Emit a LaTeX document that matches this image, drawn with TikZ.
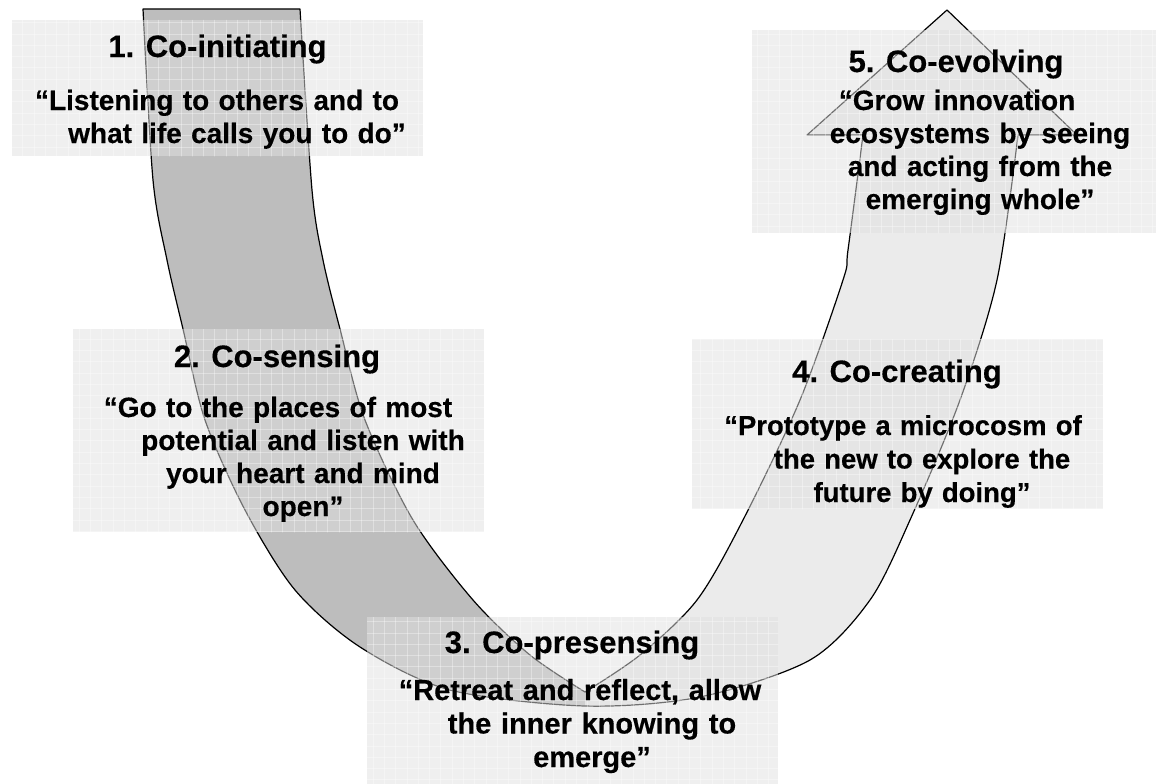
\documentclass[tikz,border=0pt]{standalone}
\usepackage{fontspec}
\setmainfont{Liberation Sans}[BoldFeatures={FakeBold=0.4}]
\definecolor{armdark}{HTML}{BDBDBD}
\definecolor{armlight}{HTML}{EBEBEB}
\definecolor{boxfill}{HTML}{E1E1E1}
\begin{document}
\begin{tikzpicture}[x=1pt,y=-1pt,
  boxbg/.style={fill=boxfill, fill opacity=0.5, draw=none, inner sep=0, anchor=north west, minimum width=411pt},
  ttl/.style={inner sep=0, anchor=base, font=\bfseries\fontsize{31}{37}\selectfont},
  qt/.style={inner sep=0, anchor=base, text width=411pt, align=center, font=\bfseries\fontsize{28}{33}\selectfont},
  armline/.style={draw=black, line width=1.2pt, line join=round},
  gridline/.style={draw=white, draw opacity=0.35, line width=0.6pt}
]
\useasboundingbox (0,0) rectangle (1156,784);
\fill[white] (0,0) rectangle (1156,784);

\def\Upath{(300,9) -- (143,9)
  -- plot[smooth] coordinates {(143,9) (153,180) (167,260) (183,329) (205,420) (245,510) (295,590) (360,647) (450,690) (585,706) (700,697) (810,660) (870,600) (910,520) (960,400) (997,280) (1018,135)}
  -- (1077,135) -- (947,10) -- (807,135) -- (863,135)
  -- plot[smooth] coordinates {(863,135) (848,250) (843,280) (800,400) (743,520) (697,600) (640,655) (585,692)}
  -- plot[smooth] coordinates {(585,692) (530,655) (473,600) (413,520) (365,420) (340,329) (323,260) (312,190) (300,9)}
  -- cycle}

\begin{scope}
  \clip (0,0) rectangle (585,784);
  \fill[armdark] \Upath;
\end{scope}
\begin{scope}
  \clip (585,0) rectangle (1156,784);
  \fill[armlight] \Upath;
\end{scope}
\draw[armline] \Upath;

% boxes
\node[boxbg, minimum height=136pt] (b1) at (12,20) {};
\node[boxbg, minimum height=203pt] (b2) at (73,329) {};
\node[boxbg, minimum height=175pt] (b3) at (367,617) {};
\node[boxbg, minimum height=170pt] (b4) at (692,339) {};
\node[boxbg, minimum height=203pt] (b5) at (752,30) {};

\begin{scope}
  \clip (b1.north west) rectangle (b1.south east)
        (b2.north west) rectangle (b2.south east)
        (b3.north west) rectangle (b3.south east)
        (b4.north west) rectangle (b4.south east)
        (b5.north west) rectangle (b5.south east);
  \foreach \gx in {0,11.3,...,1160} \draw[gridline] (\gx,0) -- (\gx,790);
  \foreach \gy in {0,11.3,...,790} \draw[gridline] (0,\gy) -- (1160,\gy);
\end{scope}

% texts
\node[ttl] (t1) at (217.5,57) {1. Co-initiating};
\node[qt] (q1) at (217,110) {“Listening to others and to\\\hspace*{40pt}what life calls you to do”};

\node[ttl] (t2) at (277,367) {2. Co-sensing};
\node[qt] (q2) at (278,417) {“Go to the places of most\\\hspace*{50pt}potential and listen with\\\hspace*{50pt}your heart and mind\\\hspace*{50pt}open”};

\node[ttl] (t3) at (572,653) {3. Co-presensing};
\node[qt, font=\bfseries\fontsize{29}{33.5}\selectfont] (q3) at (580,700) {“Retreat and reflect, allow\\\hspace*{24pt}the inner knowing to\\\hspace*{24pt}emerge”};

\node[ttl] (t4) at (897,382) {4. Co-creating};
\node[qt, font=\bfseries\fontsize{27.5}{33.5}\selectfont] (q4) at (903,435) {“Prototype a microcosm of\\\hspace*{38pt}the new to explore the\\\hspace*{38pt}future by doing”};

\node[ttl] (t5) at (956,72) {5. Co-evolving};
\node[qt] (q5) at (957,110) {“Grow innovation\\\hspace*{46pt}ecosystems by seeing\\\hspace*{46pt}and acting from the\\\hspace*{46pt}emerging whole”};
\end{tikzpicture}
\end{document}
